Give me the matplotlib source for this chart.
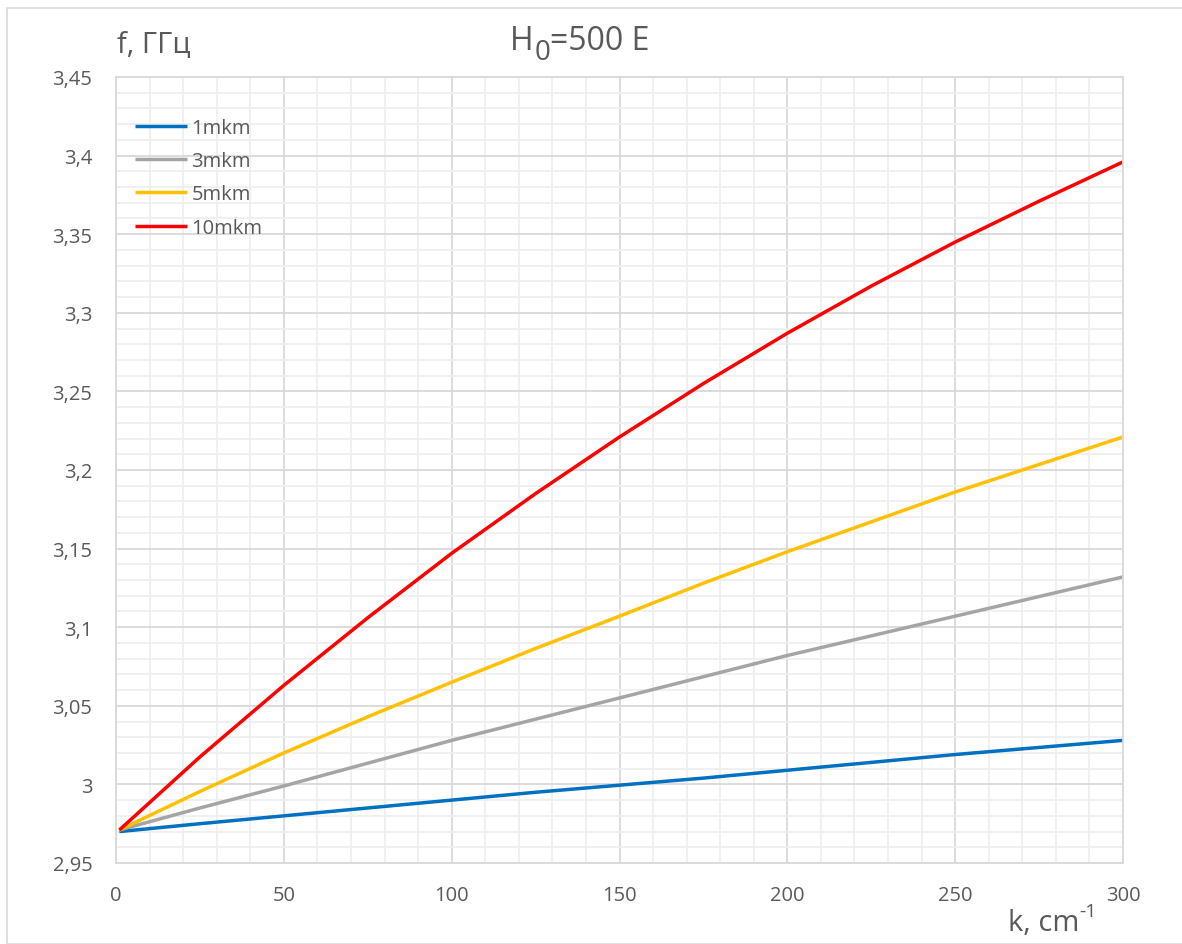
import numpy as np
import matplotlib.pyplot as plt
from matplotlib.patches import Rectangle
from matplotlib.ticker import MultipleLocator, FuncFormatter

# wave number, cm^-1
k = [1, 25, 50, 75, 100, 125, 150, 175, 200, 225, 250, 275, 300]

# frequency, GHz, for each film thickness
f_1mkm = [2.970, 2.975, 2.980, 2.985, 2.990, 2.995, 2.9995, 3.004, 3.009, 3.014, 3.019, 3.0235, 3.028]
f_3mkm = [2.971, 2.985, 2.999, 3.0135, 3.028, 3.0415, 3.055, 3.0685, 3.082, 3.0945, 3.107, 3.1195, 3.132]
f_5mkm = [2.971, 2.9955, 3.020, 3.043, 3.065, 3.0865, 3.107, 3.128, 3.148, 3.167, 3.186, 3.2035, 3.221]
f_10mkm = [2.971, 3.0175, 3.063, 3.106, 3.147, 3.185, 3.221, 3.255, 3.287, 3.317, 3.345, 3.371, 3.396]

labels = ['1mkm', '3mkm', '5mkm', '10mkm']
colors = ['#0070c0', '#a5a5a5', '#ffc000', '#ff0000']

plt.rcParams['font.family'] = ['Open Sans', 'DejaVu Sans']
txt = '#595959'

fig = plt.figure(figsize=(11.82, 9.45), dpi=100)
fig.patches.append(Rectangle((7/1182, 0), 1.0, 1 - 9/945, transform=fig.transFigure,
                             fill=False, edgecolor='#d9d9d9', linewidth=1.2))

ax = fig.add_axes([116/1182, 81/945, 1007/1182, 786/945])

for y, lab, c in zip([f_1mkm, f_3mkm, f_5mkm, f_10mkm], labels, colors):
    ax.plot(k, y, '-', color=c, linewidth=2.5, label=lab, solid_capstyle='butt')

ax.set_xlim(0, 300)
ax.set_ylim(2.95, 3.45)
ax.xaxis.set_major_locator(MultipleLocator(50))
ax.xaxis.set_minor_locator(MultipleLocator(10))
ax.yaxis.set_major_locator(MultipleLocator(0.05))
ax.yaxis.set_minor_locator(MultipleLocator(0.01))
ax.yaxis.set_major_formatter(FuncFormatter(lambda v, p: ('%g' % round(v, 2)).replace('.', ',')))

ax.grid(True, which='major', color='#d9d9d9', linewidth=1.3)
ax.grid(True, which='minor', color='#efefef', linewidth=1.3)
ax.set_axisbelow(True)
for s in ax.spines.values():
    s.set_color('#d9d9d9')
    s.set_linewidth(1.3)

ax.tick_params(which='both', length=0, labelsize=14.5, labelcolor=txt)
ax.tick_params(axis='x', pad=16)
ax.tick_params(axis='y', pad=17)

# axis names
fig.text(117/1182, 1 - 45/945, 'f, ГГц', fontsize=21, color=txt, va='center', ha='left')

kl = fig.text(1008/1182, 1 - 924/945, 'k, cm', fontsize=21, color=txt, va='center', ha='left')
ax.annotate('-1', xy=(1, 0.62), xycoords=kl, fontsize=14, color=txt, va='bottom', ha='left',
            annotation_clip=False)

# title H0=500 E, subscript drawn as its own text
h = fig.text(510/1182, 1 - 42/945, 'H', fontsize=23, color=txt, va='center', ha='left')
sub = ax.annotate('0', xy=(1, 0), xycoords=h, xytext=(1, -8), textcoords='offset pixels',
                  fontsize=20, color=txt, va='bottom', ha='left', annotation_clip=False)
ax.annotate('=500 E', xy=(1, 0), xycoords=(sub, h), xytext=(0, 0), textcoords='offset pixels',
            fontsize=23, color=txt, va='bottom', ha='left', annotation_clip=False)

leg = ax.legend(loc='upper left', bbox_to_anchor=(0.005, 0.966), frameon=False, fontsize=14.5,
                handlelength=2.6, handletextpad=0.2, labelspacing=0.66, borderaxespad=0.3)
for t in leg.get_texts():
    t.set_color(txt)

fig.savefig('out.png', dpi=100)
